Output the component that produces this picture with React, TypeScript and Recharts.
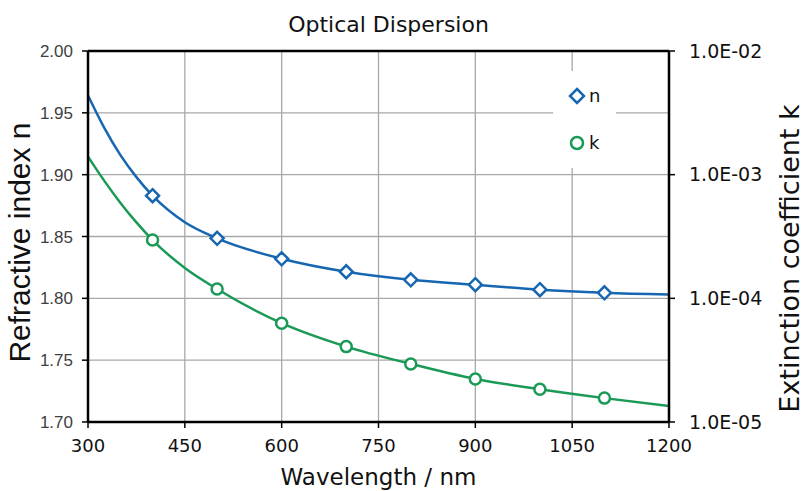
import React from 'react';
import { ComposedChart, Line, XAxis, YAxis, CartesianGrid, Legend } from 'recharts';

// wavelengths in nm (extra points near 300 nm follow the bend)
const wavelengths = [300, 325, 350, 375, 400, 450, 500, 600, 700, 800, 900, 1000, 1100, 1200];
const nValues = [1.964, 1.938, 1.916, 1.898, 1.883, 1.8615, 1.8485, 1.832, 1.8215, 1.815, 1.811, 1.807, 1.8045, 1.803];
const kValues = [1.4e-3, 8.95e-4, 5.94e-4, 4.11e-4, 2.96e-4, 1.76e-4, 1.19e-4, 6.3e-5, 4.07e-5, 2.95e-5, 2.23e-5, 1.84e-5, 1.56e-5, 1.35e-5];
const markerWavelengths = [400, 500, 600, 700, 800, 900, 1000, 1100];

const xTicks = [300, 450, 600, 750, 900, 1050, 1200];
const nTicks = [1.7, 1.75, 1.8, 1.85, 1.9, 1.95, 2.0];
const kTicks = [1e-5, 1e-4, 1e-3, 1e-2];
const kTickLabels = ['1.0E-05', '1.0E-04', '1.0E-03', '1.0E-02'];

const BLUE = '#1766b1';
const GREEN = '#1b9a57';
const SANS = '"DejaVu Sans", Verdana, sans-serif';

const data = wavelengths.map((w, i) => ({ wavelength: w, n: nValues[i], k: kValues[i] }));

const DiamondDot = (props: any) => {
  const { cx, cy, payload, index } = props;
  if (!markerWavelengths.includes(payload.wavelength)) return <g key={`d${index}`} />;
  const r = 6.5;
  return (
    <path
      key={`d${index}`}
      d={`M${cx},${cy - r} L${cx + r},${cy} L${cx},${cy + r} L${cx - r},${cy} Z`}
      fill="#fff"
      stroke={BLUE}
      strokeWidth={2.5}
    />
  );
};

const CircleDot = (props: any) => {
  const { cx, cy, payload, index } = props;
  if (!markerWavelengths.includes(payload.wavelength)) return <g key={`c${index}`} />;
  return <circle key={`c${index}`} cx={cx} cy={cy} r={5.5} fill="#fff" stroke={GREEN} strokeWidth={2.5} />;
};

const TitleLabel = (props: any) => {
  const vb = props.viewBox;
  return (
    <text x={vb.x + vb.width / 2 + 10} y={32} textAnchor="middle" fontFamily={SANS} fontSize={22} fill="#111">
      Optical Dispersion
    </text>
  );
};

const XTitle = (props: any) => {
  const vb = props.viewBox;
  return (
    <text x={vb.x + vb.width / 2} y={vb.y + vb.height - 6} textAnchor="middle" fontFamily={SANS} fontSize={23} fill="#111">
      Wavelength / nm
    </text>
  );
};

const NTitle = (props: any) => {
  const vb = props.viewBox;
  const x = vb.x + 30;
  const y = vb.y + vb.height / 2 + 6;
  return (
    <text x={x} y={y} transform={`rotate(-90, ${x}, ${y})`} textAnchor="middle" fontFamily='"Liberation Sans", Arial, sans-serif' fontSize={30} fill="#111">
      Refractive index n
    </text>
  );
};

const KTitle = (props: any) => {
  const vb = props.viewBox;
  const x = vb.x + vb.width - 6;
  const y = vb.y + vb.height / 2 + 22;
  return (
    <text x={x} y={y} transform={`rotate(-90, ${x}, ${y})`} textAnchor="middle" fontFamily={SANS} fontSize={27} fill="#111">
      Extinction coefficient k
    </text>
  );
};

const renderLegend = () => (
  <svg width={63} height={97} style={{ display: 'block' }}>
    <rect x={0} y={0} width={63} height={97} fill="#fff" />
    <path d="M24,18 L31,25 L24,32 L17,25 Z" fill="#fff" stroke={BLUE} strokeWidth={2.5} />
    <text x={36} y={31} fontFamily={SANS} fontSize={18} fill="#111">n</text>
    <circle cx={24} cy={72} r={6} fill="#fff" stroke={GREEN} strokeWidth={2.5} />
    <text x={36} y={78} fontFamily={SANS} fontSize={18} fill="#111">k</text>
  </svg>
);

export default function App() {
  const axisLine = { stroke: '#000', strokeWidth: 2.5 };
  const tickLine = { stroke: '#000', strokeWidth: 1.5 };
  return (
    <div style={{ position: 'absolute', left: 0, top: 0, width: 805, height: 491, background: '#fff' }}>
      <ComposedChart width={805} height={491} data={data} margin={{ top: 0, right: 0, bottom: 0, left: 0 }}>
        <XAxis
          xAxisId="top"
          orientation="top"
          type="number"
          domain={[300, 1200]}
          height={51}
          tick={false}
          tickLine={false}
          axisLine={axisLine}
          label={{ content: TitleLabel }}
        />
        <XAxis
          xAxisId="w"
          dataKey="wavelength"
          type="number"
          domain={[300, 1200]}
          ticks={xTicks}
          interval={0}
          height={69}
          tickSize={6}
          tickMargin={11}
          axisLine={axisLine}
          tickLine={tickLine}
          tick={{ fill: '#111', fontSize: 18, fontFamily: SANS }}
          label={{ content: XTitle }}
        />
        <YAxis
          yAxisId="n"
          type="number"
          domain={[1.7, 2.0]}
          ticks={nTicks}
          interval={0}
          width={88}
          tickSize={6}
          tickMargin={9}
          axisLine={axisLine}
          tickLine={tickLine}
          tickFormatter={(v: number) => v.toFixed(2)}
          tick={{ fill: '#404040', fontSize: 17, fontFamily: '"Liberation Sans", Arial, sans-serif' }}
          label={{ content: NTitle }}
        />
        <YAxis
          yAxisId="k"
          orientation="right"
          type="number"
          scale="log"
          domain={[1e-5, 1e-2]}
          allowDataOverflow
          ticks={kTicks}
          interval={0}
          width={136}
          tickSize={6}
          tickMargin={14}
          axisLine={axisLine}
          tickLine={tickLine}
          tickFormatter={(v: number) => kTickLabels[kTicks.findIndex(t => Math.abs(t - v) / t < 1e-6)] ?? ''}
          tick={{ fill: '#111', fontSize: 19, fontFamily: SANS }}
          label={{ content: KTitle }}
        />
        <CartesianGrid xAxisId="w" yAxisId="n" stroke="#a8a8a8" strokeWidth={1.3} horizontalValues={nTicks} verticalValues={xTicks} />
        <Line
          xAxisId="w"
          yAxisId="n"
          dataKey="n"
          type="monotone"
          stroke={BLUE}
          strokeWidth={2.5}
          dot={DiamondDot}
          activeDot={false}
          isAnimationActive={false}
        />
        <Line
          xAxisId="w"
          yAxisId="k"
          dataKey="k"
          type="monotone"
          stroke={GREEN}
          strokeWidth={2.5}
          dot={CircleDot}
          activeDot={false}
          isAnimationActive={false}
        />
        <Legend
          layout="horizontal"
          verticalAlign="middle"
          align="center"
          content={renderLegend}
          wrapperStyle={{ left: 553, top: 71, width: 63, height: 97 }}
        />
      </ComposedChart>
    </div>
  );
}
